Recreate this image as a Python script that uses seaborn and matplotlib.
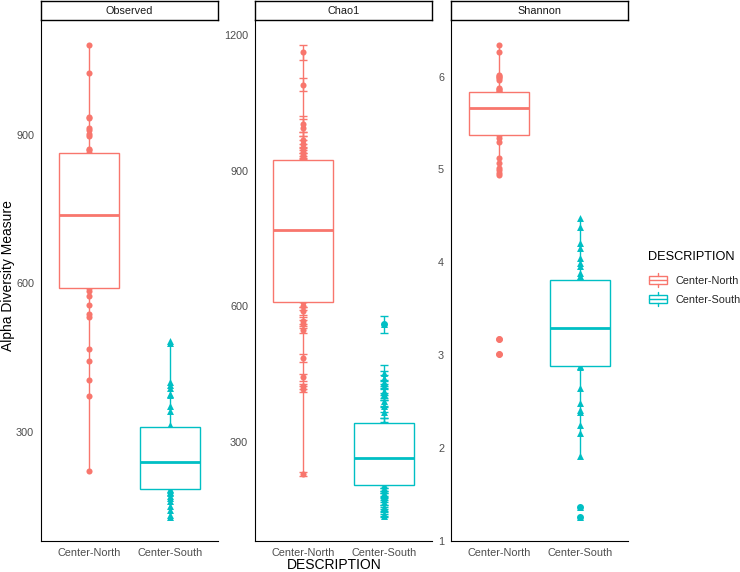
"""
Alpha diversity boxplots (Observed / Chao1 / Shannon) by DESCRIPTION
"""

import matplotlib
matplotlib.use("Agg")
import matplotlib.pyplot as plt
import numpy as np
import pandas as pd
import seaborn as sns
from matplotlib.legend_handler import HandlerBase
from matplotlib.lines import Line2D
from matplotlib.patches import Rectangle


groups = ["Center-North", "Center-South"]
colors = ["#F8766D", "#00BFC4"]
markers = ["o", "^"]
measures = ["Observed", "Chao1", "Shannon"]

observed_north = [219, 371, 405, 442, 468, 533, 539, 557, 574, 584,
                  590, 612, 640, 655, 671, 690, 702, 715, 724, 731,
                  738, 752, 768, 779, 793, 805, 818, 832, 845, 856,
                  864, 870, 872, 898, 902, 910, 916, 935, 938, 1026, 1084]
observed_south = [126, 130, 140, 150, 160, 166, 170, 176, 178, 181,
                  184, 190, 197, 205, 212, 219, 224, 229, 233, 236,
                  239, 244, 250, 257, 265, 272, 280, 288, 296, 304,
                  310, 314, 341, 351, 373, 375, 389, 395, 401, 480, 484]

chao1_north = [228, 416, 422, 442, 485, 548, 560, 568, 590, 600,
               608, 625, 650, 672, 690, 705, 722, 738, 750, 760,
               768, 782, 800, 815, 835, 850, 868, 885, 900, 912,
               923, 930, 935, 942, 950, 958, 968, 995, 1003, 1090, 1162]
chao1_north_se = [5, 6, 6, 7, 8, 8, 9, 8, 9, 9,
                  9, 10, 10, 11, 11, 11, 12, 12, 12, 13,
                  13, 13, 14, 14, 14, 15, 15, 15, 16, 16,
                  16, 16, 17, 17, 17, 18, 18, 19, 18, 14, 17]
chao1_south = [136, 140, 150, 155, 165, 172, 180, 185, 192, 198,
               203, 210, 218, 226, 233, 240, 245, 250, 255, 259,
               263, 268, 275, 283, 290, 298, 305, 313, 322, 332,
               340, 365, 378, 390, 405, 412, 422, 432, 440, 452, 560]
chao1_south_se = [4, 4, 5, 5, 5, 6, 6, 6, 6, 7,
                  7, 7, 7, 8, 8, 8, 8, 8, 9, 9,
                  9, 9, 9, 10, 10, 10, 10, 11, 11, 11,
                  12, 13, 13, 14, 14, 15, 15, 16, 16, 18, 19]

shannon_north = [3.01, 3.17, 4.94, 4.96, 4.99, 5.01, 5.07, 5.12, 5.30, 5.34,
                 5.37, 5.40, 5.44, 5.48, 5.52, 5.55, 5.58, 5.61, 5.63, 5.65,
                 5.66, 5.68, 5.70, 5.72, 5.74, 5.76, 5.78, 5.80, 5.81, 5.83,
                 5.835, 5.86, 5.87, 5.88, 5.96, 5.98, 5.99, 6.01, 6.02, 6.265, 6.344]
shannon_south = [1.25, 1.36, 1.915, 2.16, 2.245, 2.38, 2.405, 2.48, 2.645, 2.87,
                 2.886, 2.95, 3.02, 3.08, 3.12, 3.16, 3.20, 3.23, 3.26, 3.28,
                 3.29, 3.33, 3.38, 3.44, 3.50, 3.55, 3.61, 3.67, 3.72, 3.77,
                 3.81, 3.84, 3.85, 3.88, 3.96, 3.99, 4.05, 4.15, 4.21, 4.38, 4.473]

yticks = {
    "Observed": [300, 600, 900],
    "Chao1": [300, 600, 900, 1200],
    "Shannon": [1, 2, 3, 4, 5, 6],
}


def build_df() -> pd.DataFrame:
    parts = []
    values = {
        "Observed": (observed_north, observed_south),
        "Chao1": (chao1_north, chao1_south),
        "Shannon": (shannon_north, shannon_south),
    }
    ses = {"Chao1": (chao1_north_se, chao1_south_se)}
    for measure in measures:
        for i, group in enumerate(groups):
            vals = values[measure][i]
            se = ses[measure][i] if measure in ses else [0] * len(vals)
            parts.append(pd.DataFrame({
                "DESCRIPTION": group,
                "variable": measure,
                "value": vals,
                "se": se,
            }))
    return pd.concat(parts, ignore_index=True)


class BoxHandler(HandlerBase):
    # little boxplot glyph like ggplot's legend key
    def create_artists(self, legend, orig_handle, xdescent, ydescent,
                       width, height, fontsize, trans):
        c = orig_handle.get_edgecolor()
        x0, y0 = -xdescent, -ydescent
        bw, bh = width, height * 0.55
        bx = x0 + (width - bw) / 2
        by = y0 + (height - bh) / 2
        cx = x0 + width / 2
        box = Rectangle((bx, by), bw, bh, facecolor="white", edgecolor=c,
                        linewidth=1.0, transform=trans)
        med = Line2D([bx, bx + bw], [y0 + height / 2] * 2, color=c,
                     linewidth=1.0, transform=trans)
        w1 = Line2D([cx, cx], [y0, by], color=c, linewidth=1.0, transform=trans)
        w2 = Line2D([cx, cx], [by + bh, y0 + height], color=c, linewidth=1.0,
                    transform=trans)
        return [box, med, w1, w2]


def draw_panel(ax, df, measure) -> None:
    sub = df[df["variable"] == measure]
    for i, (group, color, marker) in enumerate(zip(groups, colors, markers)):
        g = sub[sub["DESCRIPTION"] == group]
        sns.stripplot(data=g, x="DESCRIPTION", y="value", order=groups,
                      color=color, marker=marker, size=4.4 if marker == "o" else 5.0,
                      jitter=False, linewidth=0, ax=ax, zorder=1)
        if measure == "Chao1":
            ax.errorbar(np.full(len(g), i), g["value"], yerr=g["se"], fmt="none",
                        ecolor=color, elinewidth=1.0, capsize=3, capthick=1.0,
                        zorder=1)
    for group, color in zip(groups, colors):
        g = sub[sub["DESCRIPTION"] == group]
        sns.boxplot(data=g, x="DESCRIPTION", y="value", order=groups,
                    color="white", linecolor=color, width=0.75, linewidth=1.0,
                    showcaps=False,
                    medianprops={"linewidth": 2.0},
                    flierprops={"marker": "o", "markersize": 4,
                                "markerfacecolor": color,
                                "markeredgecolor": color},
                    ax=ax, zorder=2)

    lo = (sub["value"] - sub["se"]).min()
    hi = (sub["value"] + sub["se"]).max()
    pad = (hi - lo) * 0.05
    ax.set_ylim(lo - pad, hi + pad)
    ax.set_xlim(-0.6, 1.6)
    ax.set_yticks(yticks[measure])
    ax.set_xlabel("")
    ax.set_ylabel("")
    for side in ["top", "right"]:
        ax.spines[side].set_visible(False)
    for side in ["left", "bottom"]:
        ax.spines[side].set_color("black")
        ax.spines[side].set_linewidth(0.8)
    ax.tick_params(axis="both", length=3, width=0.8, color="#333333",
                   labelcolor="#4D4D4D", labelsize=7.8, pad=2)


def main():
    sns.set_theme(style="white")
    plt.rcParams["font.family"] = ["Liberation Sans", "DejaVu Sans"]

    df = build_df()

    fig = plt.figure(figsize=(7.4, 5.72), dpi=100)
    W, H = 740, 572
    lefts = [41, 255, 451]
    width = 177
    top, bottom = 21, 541

    for left, measure in zip(lefts, measures):
        ax = fig.add_axes([left / W, (H - bottom) / H, width / W, (bottom - top) / H])
        draw_panel(ax, df, measure)

        strip = fig.add_axes([left / W, (H - 20) / H, width / W, 19 / H])
        strip.set_xticks([])
        strip.set_yticks([])
        for s in strip.spines.values():
            s.set_color("black")
            s.set_linewidth(1.0)
            s.set_visible(True)
        strip.text(0.5, 0.5, measure, ha="center", va="center",
                   fontsize=7.8, color="#1A1A1A", transform=strip.transAxes)

    fig.text(8 / W, 1 - 276 / H, "Alpha Diversity Measure", rotation=90,
             ha="center", va="center", fontsize=10, color="black")
    fig.text(334 / W, 1 - 565 / H, "DESCRIPTION", ha="center", va="center",
             fontsize=10, color="black")

    # legend: title as plain text, keys as boxplot glyphs
    fig.text(648 / W, 1 - 257 / H, "DESCRIPTION", ha="left", va="center",
             fontsize=9.2, color="black")
    handles = [Rectangle((0, 0), 1, 1, edgecolor=c, facecolor="white") for c in colors]
    fig.legend(handles, groups, handler_map={Rectangle: BoxHandler()},
               loc="upper left", bbox_to_anchor=(649 / W, 1 - 273 / H),
               frameon=False, fontsize=7.8,
               handlelength=1.65, handleheight=1.6, handletextpad=0.75,
               labelspacing=0.5, borderpad=0, borderaxespad=0)

    plt.savefig("out.png", dpi=100)


if __name__ == "__main__":
    main()
